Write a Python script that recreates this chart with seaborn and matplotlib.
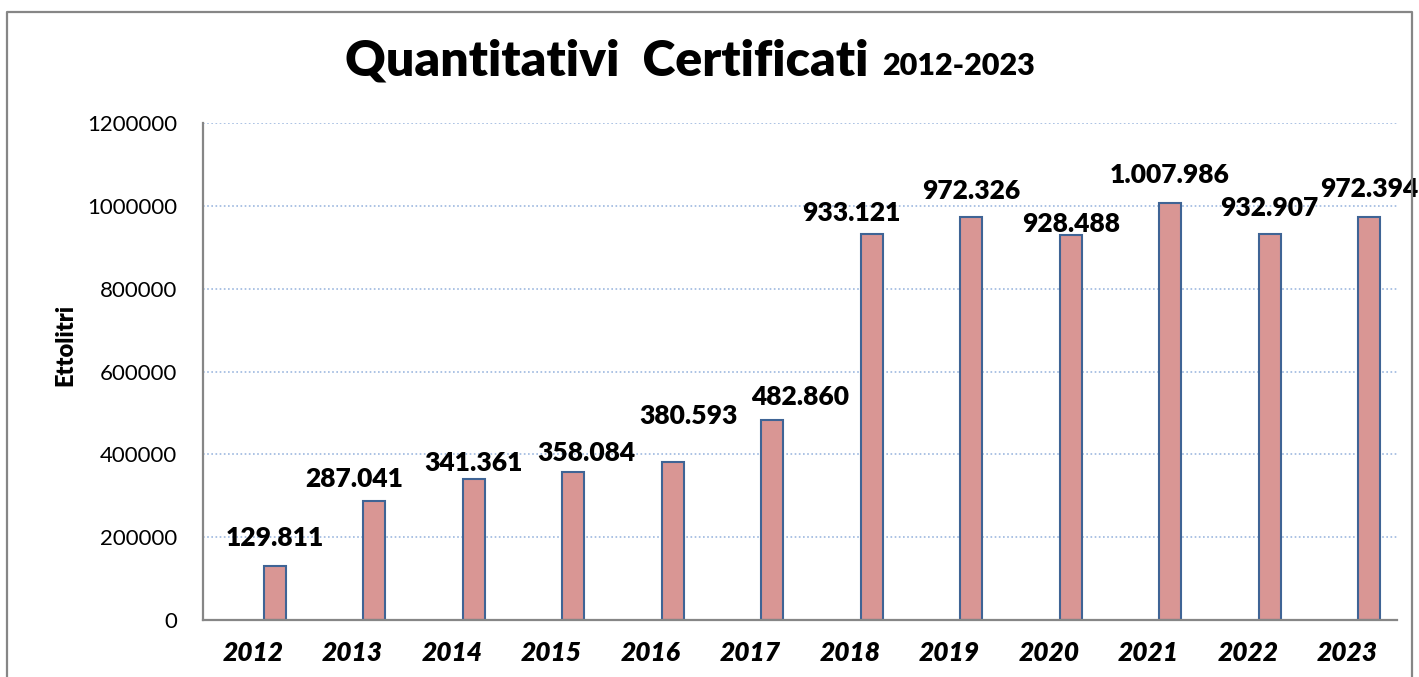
import matplotlib
matplotlib.use("Agg")
import numpy as np
import pandas as pd
import seaborn as sns
import matplotlib.pyplot as plt
from matplotlib.lines import Line2D

# ---------------- data ----------------
years = ["2012", "2013", "2014", "2015", "2016", "2017",
         "2018", "2019", "2020", "2021", "2022", "2023"]
serie_vuota = [0, 0, 0, 0, 0, 0, 0, 0, 0, 0, 0, 0]
serie_minore = [0, 0, 0, 0, 0, 0, 0, 3000, 3000, 3000, 3000, 0]
certificati = [129811, 287041, 341361, 358084, 380593, 482860,
               933121, 972326, 928488, 1007986, 932907, 972394]
y_ticks = [0, 200000, 400000, 600000, 800000, 1000000, 1200000]
title_main = "Quantitativi  Certificati"
title_years = "2012-2023"
y_label = "Ettolitri"

# label offsets (pixels, from bar top-centre to label centre)
label_offsets_px = [(0, 28), (-20, 22), (0, 16), (13, 19), (16, 46), (28, 23),
                    (-20, 21), (0, 26), (0, 11), (0, 28), (0, 26), (0, 28)]

# ---------------- style ----------------
sns.set_theme(style="white")
plt.rcParams["font.family"] = ["Lato", "DejaVu Sans"]

W, H = 1419, 677
fig = plt.figure(figsize=(W / 100, H / 100), dpi=100)
ax = fig.add_axes([203 / W, 1 - 620 / H, (1397 - 203) / W, (620 - 123) / H])

df = pd.DataFrame({
    "anno": years * 3,
    "serie": ["A"] * len(years) + ["B"] * len(years) + ["C"] * len(years),
    "valore": serie_vuota + serie_minore + certificati,
})

sns.barplot(data=df, x="anno", y="valore", hue="serie",
            palette=["#D99694", "#E6B9B8", "#D99694"],
            width=0.66, errorbar=None, legend=False, saturation=1, ax=ax)

for c in ax.containers[:2]:
    for b in c:
        b.set_edgecolor("none")
        b.set_linewidth(0)
for b in ax.containers[2]:
    b.set_edgecolor("#3F6495")
    b.set_linewidth(1.5)

# data labels
for b, v, (dx, dy) in zip(ax.containers[2], certificati, label_offsets_px):
    x = b.get_x() + b.get_width() / 2
    txt = f"{v:,}".replace(",", ".")
    ax.annotate(txt, (x, b.get_height()), xytext=(dx * 0.72, dy * 0.72),
                textcoords="offset points", ha="center", va="center",
                fontsize=19, fontweight="heavy", color="black",
                annotation_clip=False)

# axes
ax.set_ylim(0, 1200000)
ax.set_xlim(-0.5, len(years) - 0.5)
ax.set_yticks(y_ticks)
ax.set_yticklabels([str(t) for t in y_ticks], fontsize=16, color="black")
ax.set_xticks(range(len(years)))
ax.set_xticklabels(years, fontsize=19, fontweight="heavy", fontstyle="italic",
                   color="black")
ax.tick_params(axis="y", length=0, pad=18.5)
ax.tick_params(axis="x", length=0, pad=15)
ax.set_xlabel("")
ax.set_ylabel(y_label, fontsize=17, fontweight="heavy", color="black")
ax.yaxis.set_label_coords(-0.106, 0.553)

ax.set_axisbelow(True)
ax.yaxis.grid(True, color="#9DB8DF", linestyle=(0, (1, 1.5)), linewidth=1.2)
ax.xaxis.grid(False)
for s in ["top", "right"]:
    ax.spines[s].set_visible(False)
for s in ["left", "bottom"]:
    ax.spines[s].set_color("#868686")
    ax.spines[s].set_linewidth(1.6)

# title in two sizes, centred as a whole
base_y = 1 - 75 / H
t1 = fig.text(0, base_y, title_main, fontsize=36, fontweight="heavy",
              ha="left", va="baseline", color="black")
t2 = fig.text(0, base_y, title_years, fontsize=22, fontweight="heavy",
              ha="left", va="baseline", color="black")
fig.canvas.draw()
w1 = t1.get_window_extent().width
w2 = t2.get_window_extent().width
gap = 14
start = 690 - (w1 + gap + w2) / 2
t1.set_x(start / W)
t2.set_x((start + w1 + gap) / W)

# outer chart border
border = Line2D([7 / W, 7 / W, 1412 / W, 1412 / W],
                [0, 1 - 12 / H, 1 - 12 / H, 0],
                transform=fig.transFigure, color="#868686", linewidth=1.6)
fig.add_artist(border)

fig.savefig("out.png", dpi=100)
